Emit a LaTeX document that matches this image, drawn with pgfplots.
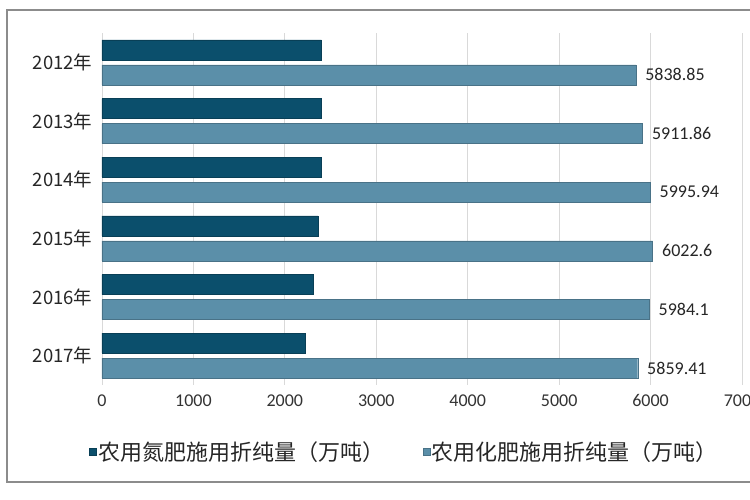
\documentclass[border=0pt]{standalone}
\usepackage{pgfplots}
\pgfplotsset{compat=1.18}
\usepackage{fontspec}
\setmainfont{Carlito}
\newfontfamily\cjk{Noto Sans CJK SC}
\definecolor{nbar}{HTML}{0B4F6C}
\definecolor{fbar}{HTML}{5B8FA9}
\definecolor{gridc}{HTML}{D9D9D9}
\begin{document}
\begin{tikzpicture}
\begin{axis}[
  name=ax,
  xbar,
  scale only axis,
  width=640pt, height=352pt,
  xmin=0, xmax=7000,
  ymin=-0.5, ymax=5.5,
  y dir=reverse,
  xtick={0,1000,...,7000},
  ytick={0,...,5},
  yticklabels={2012年,2013年,2014年,2015年,2016年,2017年},
  xmajorgrids=true,
  major grid style={gridc, line width=0.8pt},
  axis line style={draw=none},
  major tick length=0pt,
  bar width=20pt,
  /pgf/number format/assume math mode=true,
  /pgf/number format/set thousands separator={},
  xticklabel style={font=\fontsize{18}{18}\selectfont, text=black!80, yshift=-6pt},
  yticklabel style={font=\cjk\fontsize{18.5}{18.5}\selectfont, text=black!85, xshift=-6pt},
  legend columns=2,
  legend style={draw=none, fill=none, at={(-0.025,-0.19)}, anchor=west,
    font=\cjk\fontsize{22}{22}\selectfont, text=black!85,
    /tikz/every even column/.append style={column sep=36pt}},
  legend image code/.code={\fill[#1] (0pt,-3.5pt) rectangle (7pt,3.5pt);},
]
\addplot[fill=nbar, draw=nbar!80!black, bar shift=12.5pt] coordinates {
  (2399.9,0) (2394.2,1) (2392.9,2) (2361.6,3) (2310.5,4) (2221.8,5)
};
\addplot[fill=fbar, draw=fbar!80!black, bar shift=-12.5pt,
  point meta=explicit symbolic,
  nodes near coords,
  nodes near coords style={font=\fontsize{18}{18}\selectfont, text=black!85, anchor=west, xshift=6pt}]
  coordinates {
  (5838.85,0) [5838.85] (5911.86,1) [5911.86] (5995.94,2) [5995.94]
  (6022.6,3) [6022.6] (5984.1,4) [5984.1] (5859.41,5) [5859.41]
};
\legend{农用氮肥施用折纯量（万吨）,农用化肥施用折纯量（万吨）}
\end{axis}
\draw[black!45, line width=1.5pt] ([shift={(660pt,375pt)}]ax.south west) -- ([shift={(-95pt,375pt)}]ax.south west)
  -- ([shift={(-95pt,-97pt)}]ax.south west) -- ([shift={(660pt,-97pt)}]ax.south west);
\pgfresetboundingbox
\path ([shift={(-102pt,-115pt)}]ax.south west) rectangle ([shift={(648pt,385pt)}]ax.south west);
\end{tikzpicture}
\end{document}
